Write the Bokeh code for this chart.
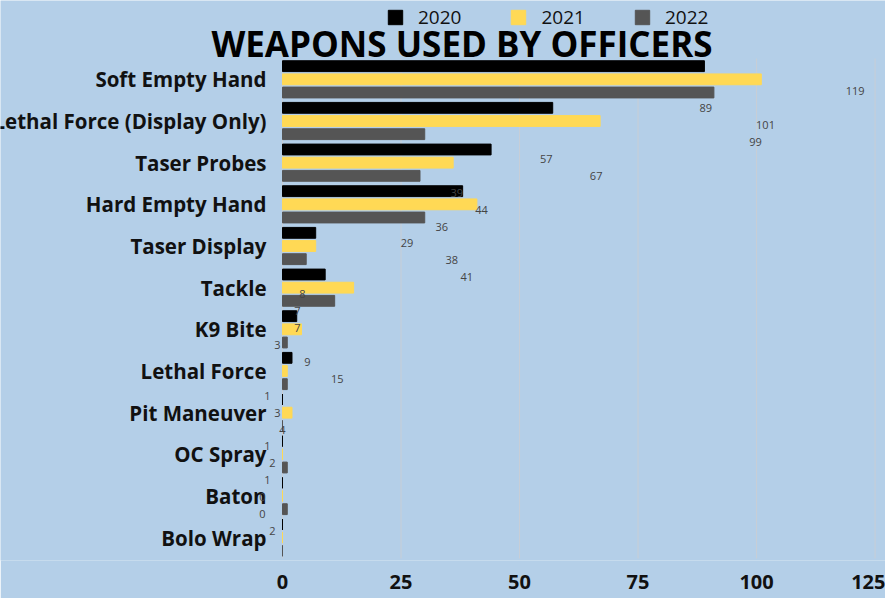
from bokeh.plotting import figure
from bokeh.models import (ColumnDataSource, Range1d, LabelSet, Label,
                          Legend, LegendItem, FixedTicker)
from bokeh.core.properties import value
from bokeh.transform import dodge
from bokeh.embed import file_html
from bokeh.resources import INLINE

categories = ["Soft Empty Hand", "Lethal Force (Display Only)", "Taser Probes",
              "Hard Empty Hand", "Taser Display", "Tackle", "K9 Bite", "Lethal Force",
              "Pit Maneuver", "OC Spray", "Baton", "Bolo Wrap"]
years = ["2020", "2021", "2022"]
v2020 = [89, 57, 44, 38, 7, 9, 3, 2, 0, 0, 0, 0]
v2021 = [101, 67, 36, 41, 7, 15, 4, 1, 2, 0, 0, 0]
v2022 = [91, 30, 29, 30, 5, 11, 1, 1, 0, 1, 1, 0]
# value labels as they appear (mid-transition) in the picture
label_values = [119, 89, 101, 99, 57, 67, 39, 44, 36, 29, 38, 41, 8, 7, 7,
                3, 9, 15, 1, 3, 4, 1, 2, 1, 0, 0, 2]
x_ticks = [0, 25, 50, 75, 100, 125]

BG = "#b4cfe8"
COLORS = {"2020": "#000000", "2021": "#ffd955", "2022": "#555555"}
FONT = "Open Sans"

n = len(categories)
src = ColumnDataSource(dict(cat=categories, idx=list(range(n)), v2020=v2020,
                            v2021=v2021, v2022=v2022, zero=[0] * n))

FW, FH = 885, 560
p = figure(x_range=Range1d(-59.49, 127.2), y_range=Range1d(11.548, -1.892),
           frame_width=FW, frame_height=FH,
           min_border_left=0, min_border_right=0, min_border_top=0, min_border_bottom=38,
           output_backend="svg", toolbar_location=None,
           background_fill_color=BG, border_fill_color=BG, outline_line_color=None)

# grid lines limited to the category band
gsrc = ColumnDataSource(dict(x=x_ticks, y0=[-0.5] * len(x_ticks),
                             y1=[n - 0.5] * len(x_ticks)))
p.segment(x0="x", x1="x", y0="y0", y1="y1", source=gsrc, line_color="#c8ced6",
          line_width=1)

offsets = {"2020": -0.316, "2021": 0.0, "2022": 0.316}
renderers = {}
for yr in years:
    renderers[yr] = p.hbar(y=dodge("idx", offsets[yr]), right="v" + yr,
                           left=0, height=0.26, source=src, color=COLORS[yr])

# axes
p.yaxis.visible = False
p.xgrid.visible = False
p.ygrid.visible = False
p.xaxis.ticker = FixedTicker(ticks=x_ticks)
p.xaxis.axis_line_color = None
p.xaxis.major_tick_line_color = None
p.xaxis.minor_tick_line_color = None
p.xaxis.major_label_standoff = 8
p.xaxis.major_label_text_font = FONT
p.xaxis.major_label_text_font_style = "bold"
p.xaxis.major_label_text_font_size = "20px"
p.xaxis.major_label_text_color = "#111111"

# category labels
p.add_layout(LabelSet(x="zero", y="idx", text="cat", source=src, x_offset=-16,
                      text_align="right", text_baseline="middle",
                      text_font=value(FONT), text_font_style="bold",
                      text_font_size="20.5px", text_color="#111111"))

# value labels (mid-animation scale)
p.extra_x_ranges = {"lx": Range1d(-52.61, 125.1)}
p.extra_y_ranges = {"ly": Range1d(27.74, -5.36)}
lsrc = ColumnDataSource(dict(v=label_values, k=list(range(len(label_values))),
                             t=[str(v) for v in label_values]))
p.add_layout(LabelSet(x="v", y="k", text="t", source=lsrc, x_range_name="lx",
                      y_range_name="ly", text_align="center",
                      text_baseline="middle", text_font=value(FONT),
                      text_font_size="11px", text_color="#444444"))

# title
p.add_layout(Label(x=461.5, y=FH - 43, x_units="screen", y_units="screen",
                   text="WEAPONS USED BY OFFICERS", text_align="center",
                   text_baseline="alphabetic", text_font=FONT, text_font_style="bold",
                   text_font_size="35px", text_color="#000000"))

# legend
legend = Legend(items=[LegendItem(label=yr, renderers=[renderers[yr]]) for yr in years],
                orientation="horizontal", location=(386, FH - 30),
                glyph_width=18, glyph_height=18, label_standoff=14, spacing=48,
                padding=0, margin=0, border_line_color=None, background_fill_alpha=0,
                label_text_font=FONT, label_text_font_size="19px",
                label_text_color="#111111", label_height=14)
p.add_layout(legend, "center")

open("out.html", "w").write(file_html(p, INLINE))
